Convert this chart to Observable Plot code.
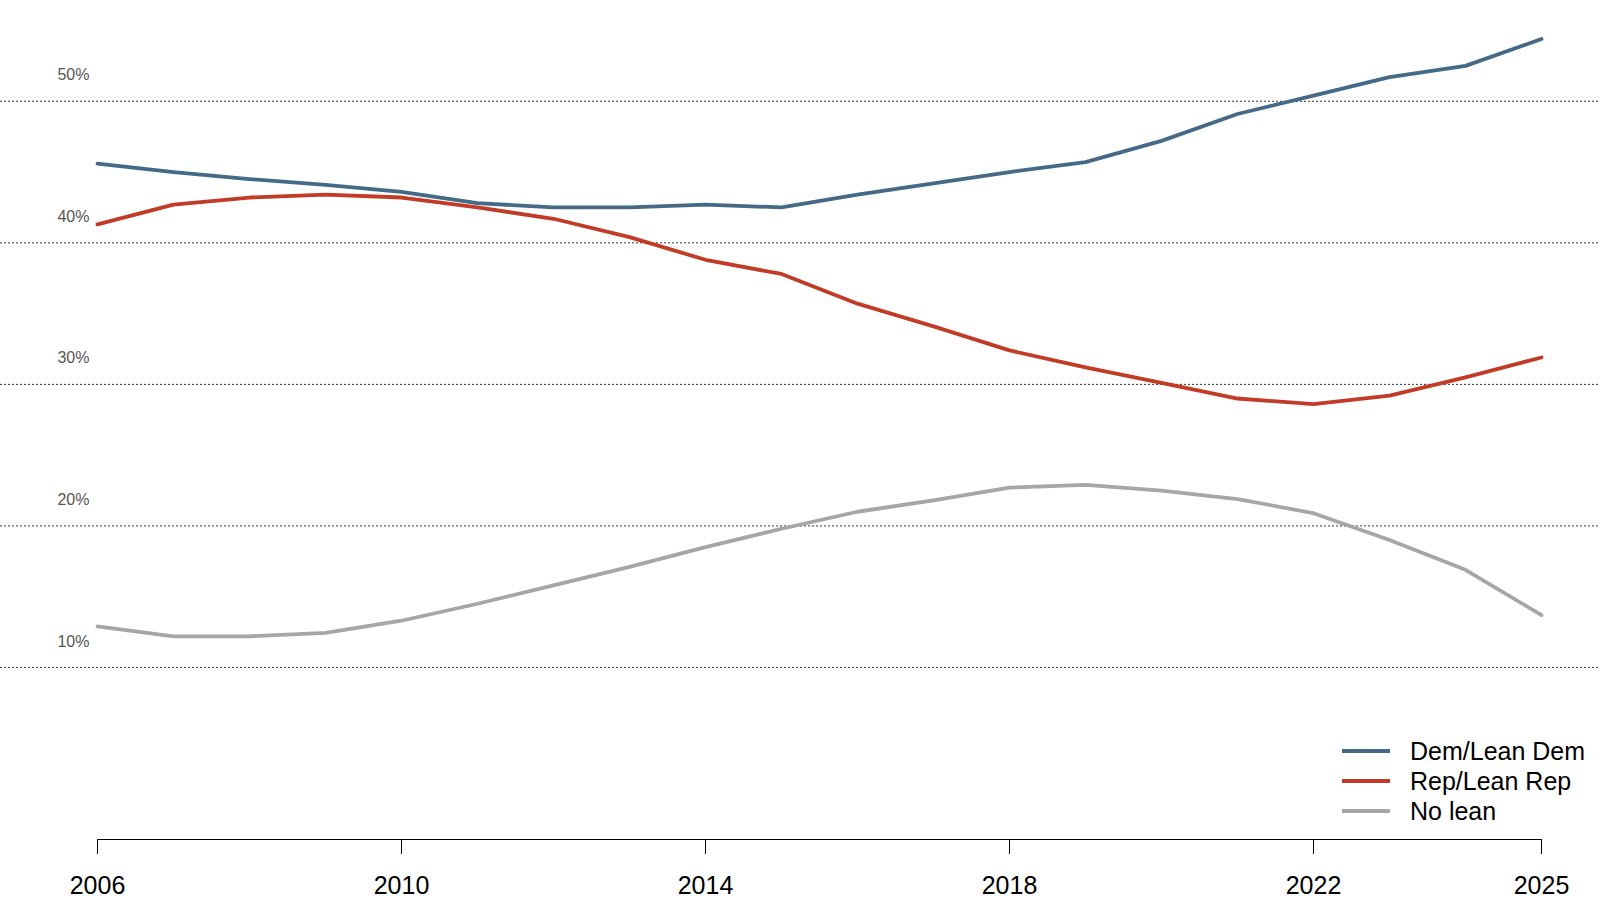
<!DOCTYPE html>
<html>
<head>
<meta charset="utf-8">
<script src="https://cdn.jsdelivr.net/npm/d3@7"></script>
<script src="https://cdn.jsdelivr.net/npm/@observablehq/plot@0.6"></script>
<style>
  html, body { margin: 0; padding: 0; background: #fff; }
  #wrap { position: relative; width: 1600px; height: 900px; font-family: "Liberation Sans", Arial, sans-serif; }
  #legend { position: absolute; left: 1342px; top: 736px; }
  .row { display: flex; align-items: center; height: 30px; }
  .row svg { display: block; margin-right: 20px; }
  .row span { font-size: 25px; color: #000; line-height: 30px; }
</style>
</head>
<body>
<div id="wrap"></div>
<script>
const years = [2006, 2007, 2008, 2009, 2010, 2011, 2012, 2013, 2014, 2015, 2016, 2017, 2018, 2019, 2020, 2021, 2022, 2023, 2024, 2025];
const dem = [45.6, 45.0, 44.5, 44.1, 43.6, 42.8, 42.5, 42.5, 42.7, 42.5, 43.4, 44.2, 45.0, 45.7, 47.2, 49.1, 50.4, 51.7, 52.5, 54.4];
const rep = [41.3, 42.7, 43.2, 43.4, 43.2, 42.5, 41.7, 40.4, 38.8, 37.8, 35.7, 34.1, 32.4, 31.2, 30.1, 29.0, 28.6, 29.2, 30.5, 31.9];
const noLean = [12.9, 12.2, 12.2, 12.45, 13.3, 14.5, 15.8, 17.1, 18.5, 19.8, 21.0, 21.8, 22.7, 22.9, 22.5, 21.9, 20.9, 19.0, 16.9, 13.7];
const seriesNames = ["Dem/Lean Dem", "Rep/Lean Rep", "No lean"];
const seriesColors = ["#446a87", "#c23b26", "#a6a6a6"];
const gridValues = [10, 20, 30, 40, 50];
const xTicks = [2006, 2010, 2014, 2018, 2022, 2025];

const seriesValues = [dem, rep, noLean];
const rows = [];
seriesNames.forEach((name, i) => {
  years.forEach((yr, j) => rows.push({series: name, year: yr, value: seriesValues[i][j]}));
});

const chart = Plot.plot({
  width: 1600,
  height: 900,
  marginLeft: 97,
  marginRight: 59,
  marginTop: 30,
  marginBottom: 61,
  x: {domain: [2006, 2025]},
  y: {domain: [-2.155, 55]},
  color: {domain: seriesNames, range: seriesColors},
  style: {fontFamily: "'Liberation Sans', Arial, sans-serif", background: "#fff"},
  marks: [
    Plot.ruleY(gridValues, {stroke: "#333", strokeWidth: 1, strokeDasharray: "2,2", insetLeft: -97, insetRight: -59}),
    Plot.axisY(gridValues, {tickSize: 0, tickPadding: 8, dy: -26, tickFormat: d => d + "%", fontSize: 16, color: "#555", label: null}),
    Plot.line(rows, {x: "year", y: "value", z: "series", stroke: "series", strokeWidth: 3.8, curve: "linear"}),
    Plot.frame({anchor: "bottom", stroke: "#000"}),
    Plot.axisX(xTicks, {tickSize: 15, tickPadding: 22, tickFormat: d => String(d), fontSize: 25, color: "#000", label: null})
  ]
});

const wrap = document.getElementById("wrap");
wrap.appendChild(chart);

const legend = document.createElement("div");
legend.id = "legend";
seriesNames.forEach((name, i) => {
  const row = document.createElement("div");
  row.className = "row";
  row.innerHTML = `<svg width="48" height="6"><line x1="0" x2="48" y1="3" y2="3" stroke="${seriesColors[i]}" stroke-width="3.8"/></svg><span>${name}</span>`;
  legend.appendChild(row);
});
wrap.appendChild(legend);
</script>
</body>
</html>
